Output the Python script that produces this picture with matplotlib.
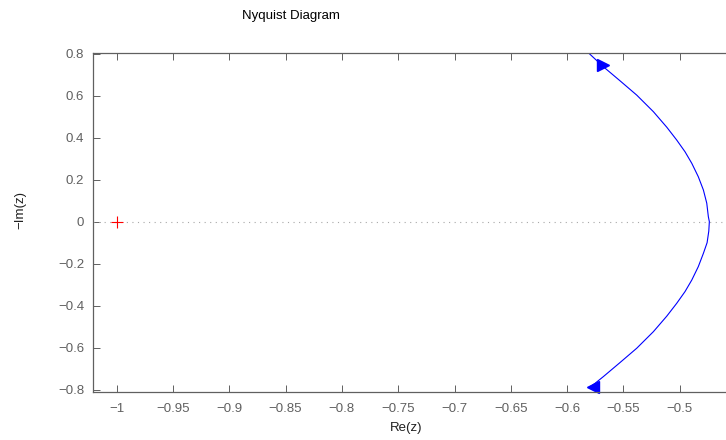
import numpy as np
import matplotlib
matplotlib.use('Agg')
import matplotlib.pyplot as plt
from matplotlib.ticker import FuncFormatter

plt.rcParams['font.family'] = ['Liberation Sans', 'DejaVu Sans']

# Nyquist curve (Re, -Im)
re_z = [-0.5870, -0.5812, -0.5678, -0.5530, -0.5382, -0.5234, -0.5115,
        -0.5027, -0.4953, -0.4893, -0.4835, -0.4790, -0.4760, -0.4746,
        -0.4737, -0.4742, -0.4757, -0.4790, -0.4835, -0.4893, -0.4953,
        -0.5027, -0.5115, -0.5234, -0.5382, -0.5530, -0.5678, -0.5752,
        -0.5800]
im_z = [0.840, 0.805, 0.738, 0.671, 0.603, 0.524, 0.450,
        0.389, 0.333, 0.278, 0.214, 0.151, 0.088, 0.024,
        0.000, -0.045, -0.100, -0.151, -0.214, -0.278, -0.333,
        -0.389, -0.450, -0.524, -0.603, -0.671, -0.738, -0.770,
        -0.788]

# arrow heads on the curve
arrow_re = [-0.5685, -0.5766]
arrow_im = [0.747, -0.786]
arrow_mark = ['>', '<']

# critical point
crit_re = [-1.0]
crit_im = [0.0]

xticks = [-1, -0.95, -0.9, -0.85, -0.8, -0.75, -0.7, -0.65, -0.6, -0.55, -0.5]
yticks = [-0.8, -0.6, -0.4, -0.2, 0, 0.2, 0.4, 0.6, 0.8]

W, H = 726, 440
fig = plt.figure(figsize=(W / 100, H / 100), dpi=100)
left, right, top, bottom = 92.5, 747.3, 52.7, 391.7
ax = fig.add_axes([left / W, (H - bottom) / H, (right - left) / W, (bottom - top) / H])

ax.axhline(0, color='#a8a8a8', linestyle=(0, (1, 4)), linewidth=0.8)
ax.plot(re_z, im_z, color='blue', linewidth=0.8)
for x, y, m in zip(arrow_re, arrow_im, arrow_mark):
    ax.plot(x, y, marker=m, color='blue', markersize=8, linestyle='none', clip_on=False)
ax.plot(crit_re, crit_im, marker='+', color='red', markersize=9, markeredgewidth=0.8,
        linestyle='none')

ax.set_xlim(-1.0215, -0.44)
ax.set_ylim(-0.81, 0.805)
ax.set_xticks(xticks)
ax.set_yticks(yticks)
fmt = FuncFormatter(lambda v, p: ('%g' % v).replace('-', '\u2212'))
ax.xaxis.set_major_formatter(fmt)
ax.yaxis.set_major_formatter(fmt)

grey = '#606060'
for s in ax.spines.values():
    s.set_color(grey)
    s.set_linewidth(0.9)
ax.tick_params(direction='in', length=5, width=0.7, colors=grey, labelsize=9.5,
               top=True, right=True, pad=6)
ax.tick_params(axis='x', pad=8)
for lab in ax.get_xticklabels() + ax.get_yticklabels():
    lab.set_color(grey)

fig.text(291 / W, 1 - 16 / H, 'Nyquist Diagram', ha='center', va='center', fontsize=9.5)
fig.text(406 / W, 1 - 428 / H, 'Re(z)', ha='center', va='center', fontsize=9.5, color='#202020')
fig.text(20 / W, 1 - 210 / H, '\u2212Im(z)', ha='center', va='center', rotation=90,
         fontsize=9.5, color='#202020')

fig.savefig('out.png', dpi=100)
